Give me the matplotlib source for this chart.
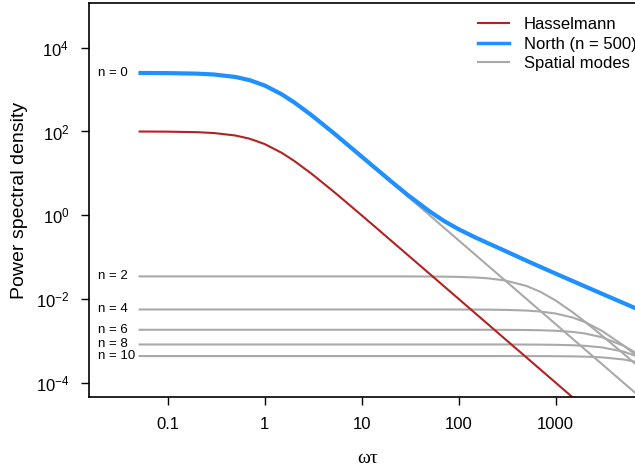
import matplotlib
matplotlib.use("Agg")
import matplotlib.pyplot as plt
from matplotlib.lines import Line2D

plt.rcParams['font.family'] = ['Liberation Sans', 'DejaVu Sans']
plt.rcParams['mathtext.default'] = 'regular'

w = [0.05, 0.1, 0.2, 0.3, 0.5, 0.7, 1, 1.5, 2, 3, 5, 7, 10, 15, 20, 30, 50, 70,
     100, 150, 200, 300, 500, 700, 1000, 1500, 2000, 3000, 5000, 7000]

hasselmann = [99.8, 99.0, 96.2, 91.7, 80, 67.1, 50, 30.8, 20, 10, 3.85, 2.0, 0.99,
              0.443, 0.249, 0.111, 0.04, 0.0204, 0.01, 0.00444, 0.0025, 0.00111,
              4.0e-4, 2.04e-4, 1.0e-4, 4.44e-5, 2.5e-5, 1.11e-5, 4.0e-6, 2.04e-6]

north = [2494, 2475, 2404, 2294, 2000, 1678, 1250, 769, 500, 250, 96.4, 50.2, 25.0,
         11.36, 6.48, 3.01, 1.24, 0.737, 0.461, 0.291, 0.215, 0.141, 0.082, 0.058,
         0.0403, 0.0267, 0.020, 0.0133, 0.0080, 0.0057]

mode0 = [2494, 2475, 2404, 2294, 2000, 1678, 1250, 769, 500, 250, 96.2, 50, 24.8,
         11.1, 6.23, 2.77, 1.0, 0.51, 0.25, 0.111, 0.0625, 0.0278, 0.01, 0.0051,
         0.0025, 0.00111, 6.25e-4, 2.78e-4, 1.0e-4, 5.1e-5]
mode2 = [0.0346] * 16 + [0.03437, 0.03414, 0.03367, 0.03258, 0.03116, 0.0277,
                         0.02045, 0.01469, 0.00918, 0.00479, 0.002866, 0.001335,
                         4.93e-4, 2.53e-4]
mode4 = [0.00562] * 18 + [0.005605, 0.00559, 0.005564, 0.005496, 0.005289, 0.005007,
                          0.004496, 0.003598, 0.002811, 0.00173, 7.76e-4, 4.245e-4]
mode6 = [0.00184] * 21 + [0.001832, 0.001816, 0.001792, 0.001743, 0.001633, 0.001501,
                          0.00122, 7.62e-4, 4.88e-4]
mode8 = [8.2e-4] * 22 + [8.157e-4, 8.12e-4, 8.04e-4, 7.855e-4, 7.61e-4, 6.98e-4,
                         5.53e-4, 4.21e-4]
mode10 = [4.34e-4] * 22 + [4.329e-4, 4.32e-4, 4.302e-4, 4.259e-4, 4.199e-4, 4.038e-4,
                           3.595e-4, 3.088e-4]

modes = [mode0, mode2, mode4, mode6, mode8, mode10]
mode_labels = ["n = 0", "n = 2", "n = 4", "n = 6", "n = 8", "n = 10"]

xticks = [0.1, 1, 10, 100, 1000]
xticklabels = ["0.1", "1", "10", "100", "1000"]
yticks = [1e-4, 1e-2, 1, 1e2, 1e4]

red = "#B22222"
blue = "#1E90FF"
grey = "#A9A9A9"

W, H = 635, 473
fig = plt.figure(figsize=(W / 100, H / 100), dpi=100)
ax = fig.add_axes([88.7 / W, (H - 397.3) / H, (647 - 88.7) / W, (397.3 - 3.3) / H])

for m in modes:
    ax.plot(w, m, color=grey, lw=1.5, solid_capstyle='butt')
ax.plot(w, hasselmann, color=red, lw=1.5, solid_capstyle='butt')
ax.plot(w, north, color=blue, lw=3.0, solid_capstyle='butt')

for m, lab in zip(modes, mode_labels):
    ax.text(0.0192, m[0], lab, ha='left', va='center', fontsize=9.5)

ax.set_xscale('log')
ax.set_yscale('log')
ax.set_xlim(0.0153, 8730)
ax.set_ylim(4.49e-5, 1.15e5)

ax.set_xticks(xticks)
ax.set_xticklabels(xticklabels)
ax.set_yticks(yticks)
ax.minorticks_off()
ax.tick_params(direction='out', length=6, width=1.0, labelsize=12, pad=8)

for s in ax.spines.values():
    s.set_linewidth(1.2)

ax.set_ylabel("Power spectral density", fontsize=14)
ax.yaxis.set_label_coords(-0.108, 0.5)
ax.set_xlabel("ωτ", fontsize=14, family=['Liberation Serif', 'DejaVu Serif'])
ax.xaxis.set_label_coords(0.5, -0.135)

handles = [Line2D([], [], color=red, lw=1.5),
           Line2D([], [], color=blue, lw=2.5),
           Line2D([], [], color=grey, lw=1.5)]
ax.legend(handles, ["Hasselmann", "North (n = 500)", "Spatial modes"],
          loc='upper left', bbox_to_anchor=(478 / W, 1 - 17 / H),
          bbox_transform=fig.transFigure, frameon=False, fontsize=12,
          handlelength=1.86, handletextpad=0.9, labelspacing=0.28,
          borderpad=0, borderaxespad=0)

fig.savefig("out.png", dpi=100)
